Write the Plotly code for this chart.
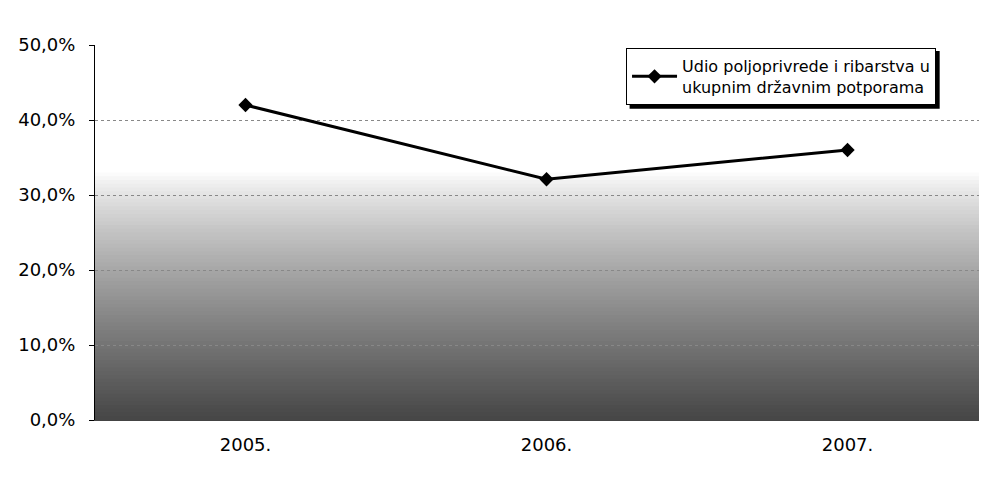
import plotly.graph_objects as go

years = ["2005.", "2006.", "2007."]
share = [42.0, 32.1, 36.0]
y_ticks = [0, 10, 20, 30, 40, 50]
y_ticktext = ["0,0%", "10,0%", "20,0%", "30,0%", "40,0%", "50,0%"]
series_name = "Udio poljoprivrede i ribarstva u<br>ukupnim državnim potporama"

fig = go.Figure()
fig.add_trace(go.Scatter(
    x=years, y=share, mode="lines+markers", name=series_name,
    line=dict(color="black", width=3),
    marker=dict(symbol="diamond", size=11, color="black"),
))

# gradient background (dithered gray in original)
shapes = []
n = 66
top = 33.0
for i in range(n):
    y0 = top * i / n
    y1 = top * (i + 1.6) / n
    t = (i + 0.5) / n  # 0 bottom -> 1 top
    lum = int(255 - 185 * ((1 - t) ** 0.8))
    lum = max(0, min(255, lum))
    shapes.append(dict(type="rect", xref="paper", yref="y", x0=0, x1=1, y0=y0, y1=min(y1, top),
                       fillcolor=f"rgb({lum},{lum},{lum})", line=dict(width=0), layer="below"))
# legend shadow
shapes.append(dict(type="rect", xref="paper", yref="paper", x0=0.600, x1=0.948, y0=0.830, y1=0.984,
                   fillcolor="black", line=dict(width=0), layer="above"))

fig.update_layout(
    width=987, height=477,
    margin=dict(l=87, r=9, t=37, b=65),
    paper_bgcolor="white", plot_bgcolor="white",
    font=dict(family="DejaVu Sans", size=18, color="black"),
    shapes=shapes,
    showlegend=True,
    legend=dict(x=0.596, y=0.992, xanchor="left", yanchor="top",
                bgcolor="white", bordercolor="black", borderwidth=1,
                font=dict(size=16), itemwidth=45),
    xaxis=dict(type="category", range=[-0.5, 2.46], showgrid=False,
               showline=True, linecolor="#444", linewidth=1, ticks="",
               ticklabelstandoff=8, tickfont=dict(size=18)),
    yaxis=dict(range=[0, 50], tickvals=y_ticks, ticktext=y_ticktext,
               showgrid=True, gridcolor="#888", griddash="dot", gridwidth=1,
               showline=True, linecolor="black", linewidth=1,
               ticks="outside", ticklen=5, tickcolor="black",
               ticklabelstandoff=10, tickfont=dict(size=18), zeroline=False),
)
fig.write_html("out.html")
